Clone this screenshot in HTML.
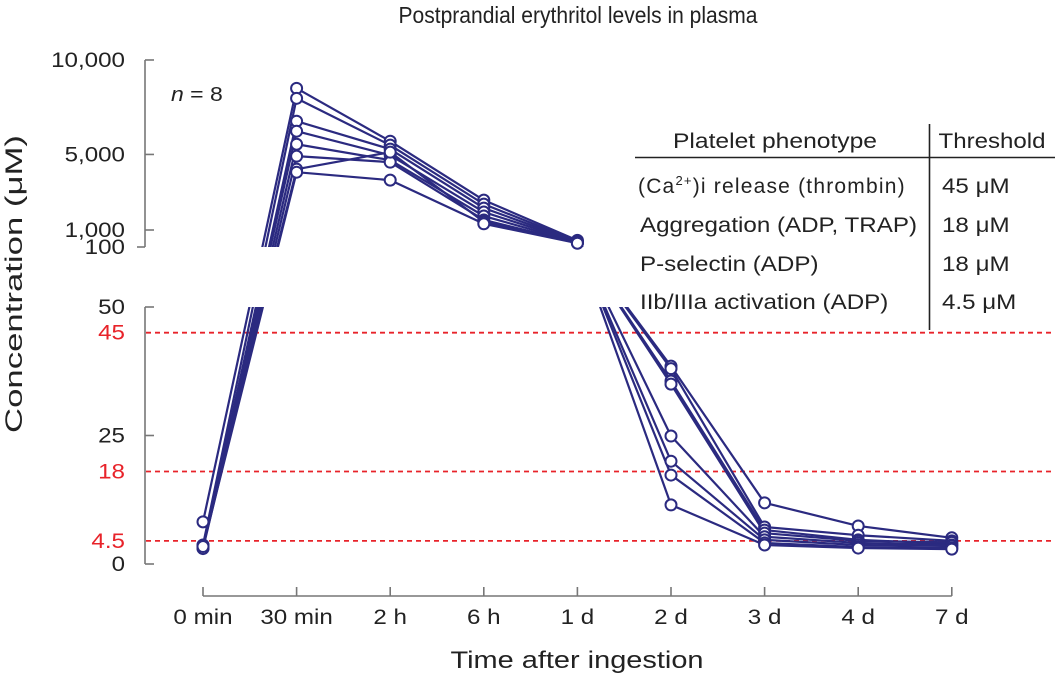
<!DOCTYPE html>
<html><head><meta charset="utf-8"><style>
html,body{margin:0;padding:0;background:#fff;width:1055px;height:675px;overflow:hidden}
svg text{font-family:"Liberation Sans",sans-serif}
</style></head><body>
<svg id="chart" width="1055" height="675" viewBox="0 0 1055 675" xmlns="http://www.w3.org/2000/svg">
<text x="578" y="23" font-size="23" fill="#222" text-anchor="middle" textLength="359" lengthAdjust="spacingAndGlyphs">Postprandial erythritol levels in plasma</text>
<text transform="translate(22,284) rotate(-90)" font-size="24" fill="#222" text-anchor="middle" textLength="298" lengthAdjust="spacingAndGlyphs">Concentration (μM)</text>
<text x="577" y="668" font-size="24" fill="#222" text-anchor="middle" textLength="253" lengthAdjust="spacingAndGlyphs">Time after ingestion</text>
<text class="wide" x="171" y="101" font-size="20" fill="#222"><tspan font-style="italic">n</tspan> = 8</text>
<defs>
<clipPath id="clipUp"><rect x="150" y="40" width="905" height="207"/></clipPath>
<clipPath id="clipLo"><rect x="150" y="307" width="905" height="280"/></clipPath>
</defs>
<g id="axes"></g>
<g id="thresholds"></g>
<g id="series"></g>
<g font-size="21" fill="#222">
<text x="775" y="148" text-anchor="middle" textLength="204" lengthAdjust="spacingAndGlyphs">Platelet phenotype</text>
<text x="992" y="148" text-anchor="middle" textLength="107" lengthAdjust="spacingAndGlyphs">Threshold</text>
<line x1="635" y1="157.5" x2="1055" y2="157.5" stroke="#222" stroke-width="1.6"/>
<line x1="929.5" y1="124" x2="929.5" y2="330" stroke="#222" stroke-width="1.6"/>
<text x="638" y="193" letter-spacing="1.2">(Ca<tspan font-size="13" dy="-8">2+</tspan><tspan dy="8">)i release (thrombin)</tspan></text>
<text class="wide" x="640" y="232">Aggregation (ADP, TRAP)</text>
<text class="wide" x="640" y="271">P-selectin (ADP)</text>
<text class="wide" x="640" y="309">IIb/IIIa activation (ADP)</text>
<text class="wide" x="942" y="193">45 μM</text>
<text class="wide" x="942" y="232">18 μM</text>
<text class="wide" x="942" y="271">18 μM</text>
<text class="wide" x="942" y="309">4.5 μM</text>
</g>
</svg>
<script>
const categories = ["0 min","30 min","2 h","6 h","1 d","2 d","3 d","4 d","7 d"];
const upperTicks = [10000,5000,1000,100];
const upperTickLabels = ["10,000","5,000","1,000","100"];
const lowerTicks = [50,25,0];
const lowerTickLabels = ["50","25","0"];
const thresholds = [45,18,4.5];
const thresholdLabels = ["45","18","4.5"];
const s1 = [8.2,8500,5700,2580,450,38.5,11.9,7.4,5.1];
const s2 = [3.7,7970,5490,2370,400,38,7.2,5.6,4.5];
const s3 = [3.1,6760,5280,2160,380,35.6,6.6,4.7,3.9];
const s4 = [3.5,6230,4960,1950,360,35,6.0,4.5,4.2];
const s5 = [3.3,5540,4700,1740,340,24.9,5.3,4.1,3.7];
const s6 = [3.0,4910,4590,1530,320,20,4.7,3.7,3.5];
const s7 = [3.6,4220,5120,1430,310,17.3,4.1,3.3,3.1];
const s8 = [3.4,4060,3640,1330,300,11.5,3.7,3.1,2.9];
const series = [s1,s2,s3,s4,s5,s6,s7,s8];

const NS="http://www.w3.org/2000/svg";
function xs(i){return 203+i*93.6;}
function ys(v){
  if(v<=50) return 564 - v*5.14;
  if(v<=100) return 307 - (v-50)/50*60;
  return 247 - (v-100)*0.01889;
}
function mk(tag,attrs,parent){const e=document.createElementNS(NS,tag);for(const k in attrs)e.setAttribute(k,attrs[k]);parent.appendChild(e);return e;}
const axes=document.getElementById('axes');
const AX="#777";
const yUp=mk('line',{x1:145,y1:60,x2:145,y2:247,stroke:AX,'stroke-width':1.6},axes);


const yLo=mk('line',{x1:145,y1:307,x2:145,y2:564,stroke:AX,'stroke-width':1.6},axes);


upperTicks.forEach((v,i)=>{
  const y=ys(v);
  const left = v===100;
  mk('line',{x1:left?137:145,y1:y,x2:left?145:154,y2:y,stroke:AX,'stroke-width':1.6},axes);
  const t=mk('text',{x:125,y:y+7,'font-size':21,fill:'#222','text-anchor':'end','class':'wide'},axes);
  t.textContent=upperTickLabels[i];
  
  
});
lowerTicks.forEach((v,i)=>{
  const y=ys(v);
  mk('line',{x1:145,y1:y,x2:154,y2:y,stroke:AX,'stroke-width':1.6},axes);
  const t=mk('text',{x:125,y:y+7,'font-size':21,fill:'#222','text-anchor':'end','class':'wide'},axes);
  t.textContent=lowerTickLabels[i];
  
  
});
const xl=mk('line',{x1:xs(0),y1:596,x2:xs(categories.length-1),y2:596,stroke:AX,'stroke-width':1.6},axes);


categories.forEach((c,i)=>{
  mk('line',{x1:xs(i),y1:587,x2:xs(i),y2:596,stroke:AX,'stroke-width':1.6},axes);
  const t=mk('text',{x:xs(i),y:624,'font-size':21,fill:'#222','text-anchor':'middle','class':'wide'},axes);
  t.textContent=c;
  
  
});
const th=document.getElementById('thresholds');
thresholds.forEach((v,i)=>{
  const y=ys(v);
  const l=mk('line',{x1:146,y1:y,x2:1055,y2:y,stroke:'#e8232a','stroke-width':1.8,'stroke-dasharray':'5,4'},th);
  
  
  const t=mk('text',{x:125,y:y+7,'font-size':21,fill:'#e8232a','text-anchor':'end','class':'wide'},th);
  t.textContent=thresholdLabels[i];
  
  
});
const sg=document.getElementById('series');
const COL="#2b2a80";
["clipUp","clipLo"].forEach(cid=>{
  const g=mk('g',{'clip-path':'url(#'+cid+')'},sg);
  series.forEach(s=>{
    const pts=s.map((v,i)=>xs(i)+','+ys(v)).join(' ');
    const p=mk('polyline',{points:pts,fill:'none',stroke:COL,'stroke-width':2.2,'stroke-linejoin':'round'},g);
    
    
  });
});
series.forEach(s=>{
  s.forEach((v,i)=>{
    const c=mk('circle',{cx:xs(i),cy:ys(v),r:5.5,fill:'#fff',stroke:COL,'stroke-width':2},sg);
    
    
  });
});
document.querySelectorAll('text.wide').forEach(t=>{
  const w=t.getComputedTextLength();
  t.setAttribute('textLength',(w*1.15).toFixed(1));
  t.setAttribute('lengthAdjust','spacingAndGlyphs');
});
</script>
</body></html>
